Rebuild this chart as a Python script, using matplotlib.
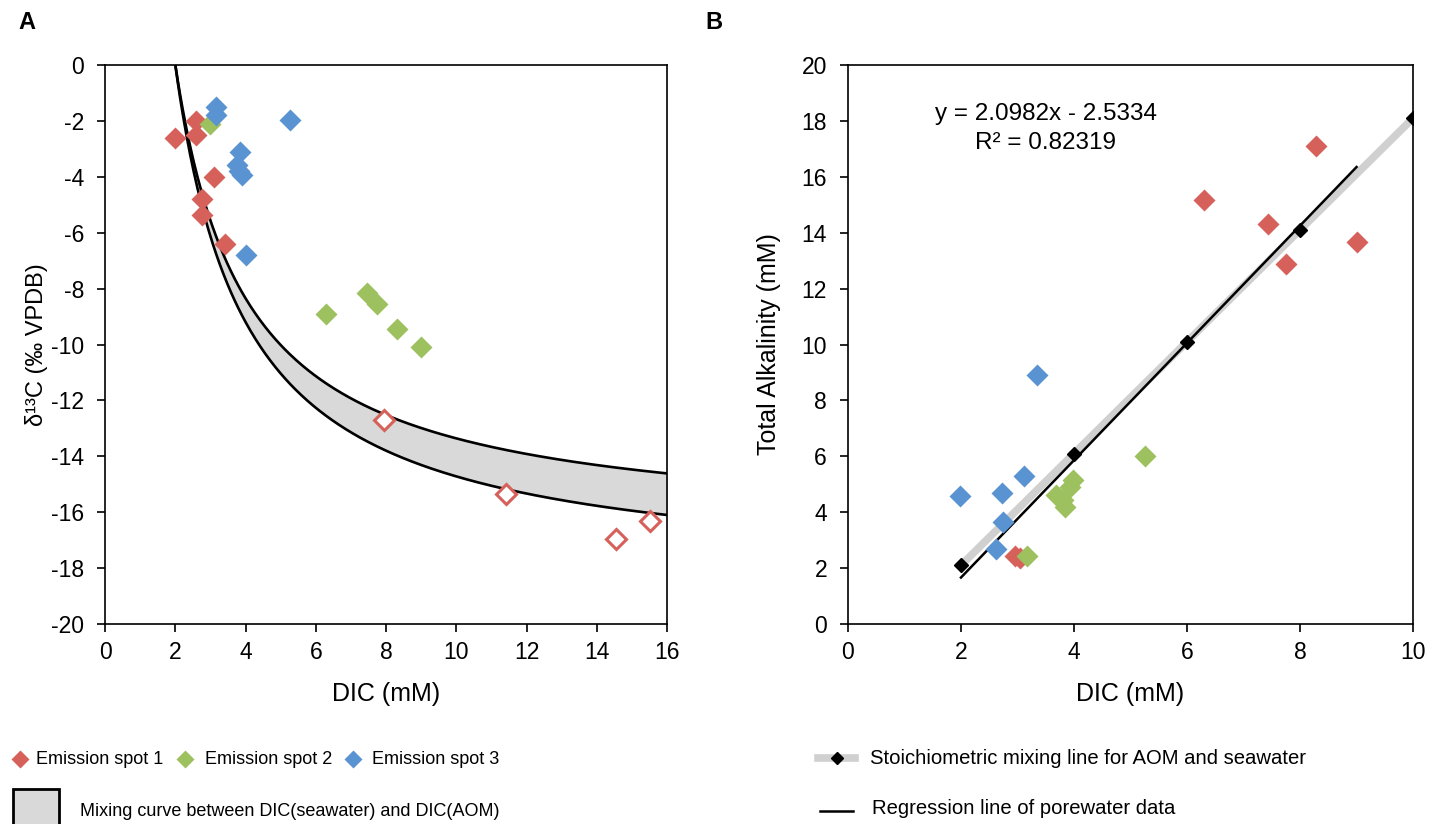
import numpy as np
import matplotlib
matplotlib.use("Agg")
import matplotlib.pyplot as plt
from matplotlib.lines import Line2D
from matplotlib.patches import Rectangle

plt.rcParams['font.family'] = ['Liberation Sans', 'DejaVu Sans']
plt.rcParams['axes.unicode_minus'] = False

RED = '#D6605A'
GREEN = '#9CC15E'
BLUE = '#5A93D2'

# panel A: DIC (mM) vs d13C
a_spot1_dic = [2.0, 2.6, 2.6, 2.75, 2.75, 3.1, 3.4]
a_spot1_d13c = [-2.6, -2.0, -2.5, -4.8, -5.37, -4.0, -6.4]
a_spot1_open_dic = [7.95, 11.4, 14.55, 15.5]
a_spot1_open_d13c = [-12.7, -15.35, -16.95, -16.3]
a_spot2_dic = [3.0, 6.3, 7.45, 7.75, 8.3, 9.0]
a_spot2_d13c = [-2.1, -8.9, -8.15, -8.55, -9.45, -10.1]
a_spot3_dic = [3.15, 3.15, 5.25, 3.85, 3.76, 3.82, 3.9, 4.0]
a_spot3_d13c = [-1.5, -1.8, -1.95, -3.1, -3.58, -3.8, -3.95, -6.8]

# mixing end-members
dic_sw = 2.0
d13c_sw = 0.0
d13c_aom_upper = -16.7
d13c_aom_lower = -18.4

# panel B: DIC vs total alkalinity
b_spot1_dic = [6.3, 8.29, 7.43, 7.75, 9.0, 2.95, 3.05]
b_spot1_ta = [15.17, 17.11, 14.31, 12.88, 13.67, 2.45, 2.35]
b_spot2_dic = [5.26, 3.99, 3.69, 3.84, 3.8, 3.93, 3.16]
b_spot2_ta = [6.0, 5.15, 4.61, 4.2, 4.45, 4.91, 2.45]
b_spot3_dic = [3.35, 1.98, 2.72, 3.12, 2.74, 2.62]
b_spot3_ta = [8.91, 4.58, 4.68, 5.3, 3.66, 2.67]
stoich_dic = [2, 4, 6, 8, 10]
stoich_ta = [2.1, 6.1, 10.1, 14.1, 18.1]
reg_slope = 2.0982
reg_icpt = -2.5334
reg_range = [2.0, 9.0]

fig = plt.figure(figsize=(14.49, 8.24), dpi=100)
axA = fig.add_axes([0.0725, 0.2427, 0.388, 0.6784])
axB = fig.add_axes([0.5852, 0.2427, 0.390, 0.6784])

tfs = 16.5   # tick labels
lfs = 18     # axis labels
ms = 11

# --- A ---
dic = np.linspace(dic_sw, 16, 400)
up = (dic_sw * d13c_sw + (dic - dic_sw) * d13c_aom_upper) / dic
lo = (dic_sw * d13c_sw + (dic - dic_sw) * d13c_aom_lower) / dic
axA.fill_between(dic, lo, up, color='#D9D9D9', zorder=1)
axA.plot(dic, up, color='black', lw=1.9, zorder=2)
axA.plot(dic, lo, color='black', lw=1.9, zorder=2)

axA.plot(a_spot1_dic, a_spot1_d13c, 'D', color=RED, ms=ms, mec='none', zorder=3)
axA.plot(a_spot1_open_dic, a_spot1_open_d13c, 'D', mfc='white', mec=RED, mew=2.2, ms=ms - 1, zorder=3)
axA.plot(a_spot2_dic, a_spot2_d13c, 'D', color=GREEN, ms=ms, mec='none', zorder=3)
axA.plot(a_spot3_dic, a_spot3_d13c, 'D', color=BLUE, ms=ms, mec='none', zorder=3)

axA.set_xlim(0, 16)
axA.set_ylim(-20, 0)
axA.set_xticks(np.arange(0, 17, 2))
axA.set_yticks(np.arange(-20, 1, 2))
axA.set_xlabel('DIC (mM)', fontsize=lfs, labelpad=13)
axA.set_ylabel('δ¹³C (‰ VPDB)', fontsize=17, labelpad=2)

# --- B ---
axB.plot(stoich_dic, stoich_ta, color='#D0D0D0', lw=5.5, zorder=1, solid_capstyle='butt')
axB.plot(stoich_dic, stoich_ta, 'D', color='black', ms=7, zorder=2)
rx = np.array(reg_range)
axB.plot(rx, reg_slope * rx + reg_icpt, color='black', lw=1.8, zorder=2)

axB.plot(b_spot1_dic, b_spot1_ta, 'D', color=RED, ms=ms, mec='none', zorder=3)
axB.plot(b_spot2_dic, b_spot2_ta, 'D', color=GREEN, ms=ms, mec='none', zorder=3)
axB.plot(b_spot3_dic, b_spot3_ta, 'D', color=BLUE, ms=ms, mec='none', zorder=3)

axB.text(3.5, 18.25, 'y = 2.0982x - 2.5334', ha='center', va='center', fontsize=17.5)
axB.text(3.5, 17.2, 'R² = 0.82319', ha='center', va='center', fontsize=17.5)

axB.set_xlim(0, 10)
axB.set_ylim(0, 20)
axB.set_xticks(np.arange(0, 11, 2))
axB.set_yticks(np.arange(0, 21, 2))
axB.set_xlabel('DIC (mM)', fontsize=lfs, labelpad=13)
axB.set_ylabel('Total Alkalinity (mM)', fontsize=lfs, labelpad=15)

for ax in (axA, axB):
    ax.tick_params(direction='out', length=6, width=1.2, labelsize=tfs)
    ax.tick_params(axis='x', pad=6)
    ax.tick_params(axis='y', pad=9)
    for s in ax.spines.values():
        s.set_linewidth(1.2)

fig.text(0.013, 0.987, 'A', fontsize=17, fontweight='bold', va='top')
fig.text(0.487, 0.987, 'B', fontsize=17, fontweight='bold', va='top')

# legends, drawn in figure coordinates
W, H = 1449.0, 824.0
spots = [(RED, 'Emission spot 1', 20, 36), (GREEN, 'Emission spot 2', 185, 205),
         (BLUE, 'Emission spot 3', 353, 372)]
for c, lab, mx, tx in spots:
    fig.add_artist(Line2D([mx / W], [1 - 759 / H], transform=fig.transFigure,
                          ls='none', marker='D', color=c, ms=9, mec='none'))
    fig.text(tx / W, 1 - 759 / H, lab, fontsize=13, va='center')

fig.add_artist(Rectangle((13 / W, -0.05), 46 / W, 0.05 + 1 - 789 / H, transform=fig.transFigure,
                         facecolor='#D9D9D9', edgecolor='black', lw=2.0))
fig.text(80 / W, 1 - 811 / H, 'Mixing curve between DIC(seawater) and DIC(AOM)', fontsize=13, va='center')

fig.add_artist(Line2D([818 / W, 855 / W], [1 - 758 / H] * 2, transform=fig.transFigure,
                      color='#D0D0D0', lw=5.5))
fig.add_artist(Line2D([837 / W], [1 - 758 / H], transform=fig.transFigure,
                      ls='none', marker='D', color='black', ms=6))
fig.text(870 / W, 1 - 758 / H, 'Stoichiometric mixing line for AOM and seawater', fontsize=14.6, va='center')
fig.add_artist(Line2D([820 / W, 853 / W], [1 - 811 / H] * 2, transform=fig.transFigure,
                      color='black', lw=1.8))
fig.text(872 / W, 1 - 809 / H, 'Regression line of porewater data', fontsize=14.6, va='center')

fig.savefig('out.png', dpi=100)
